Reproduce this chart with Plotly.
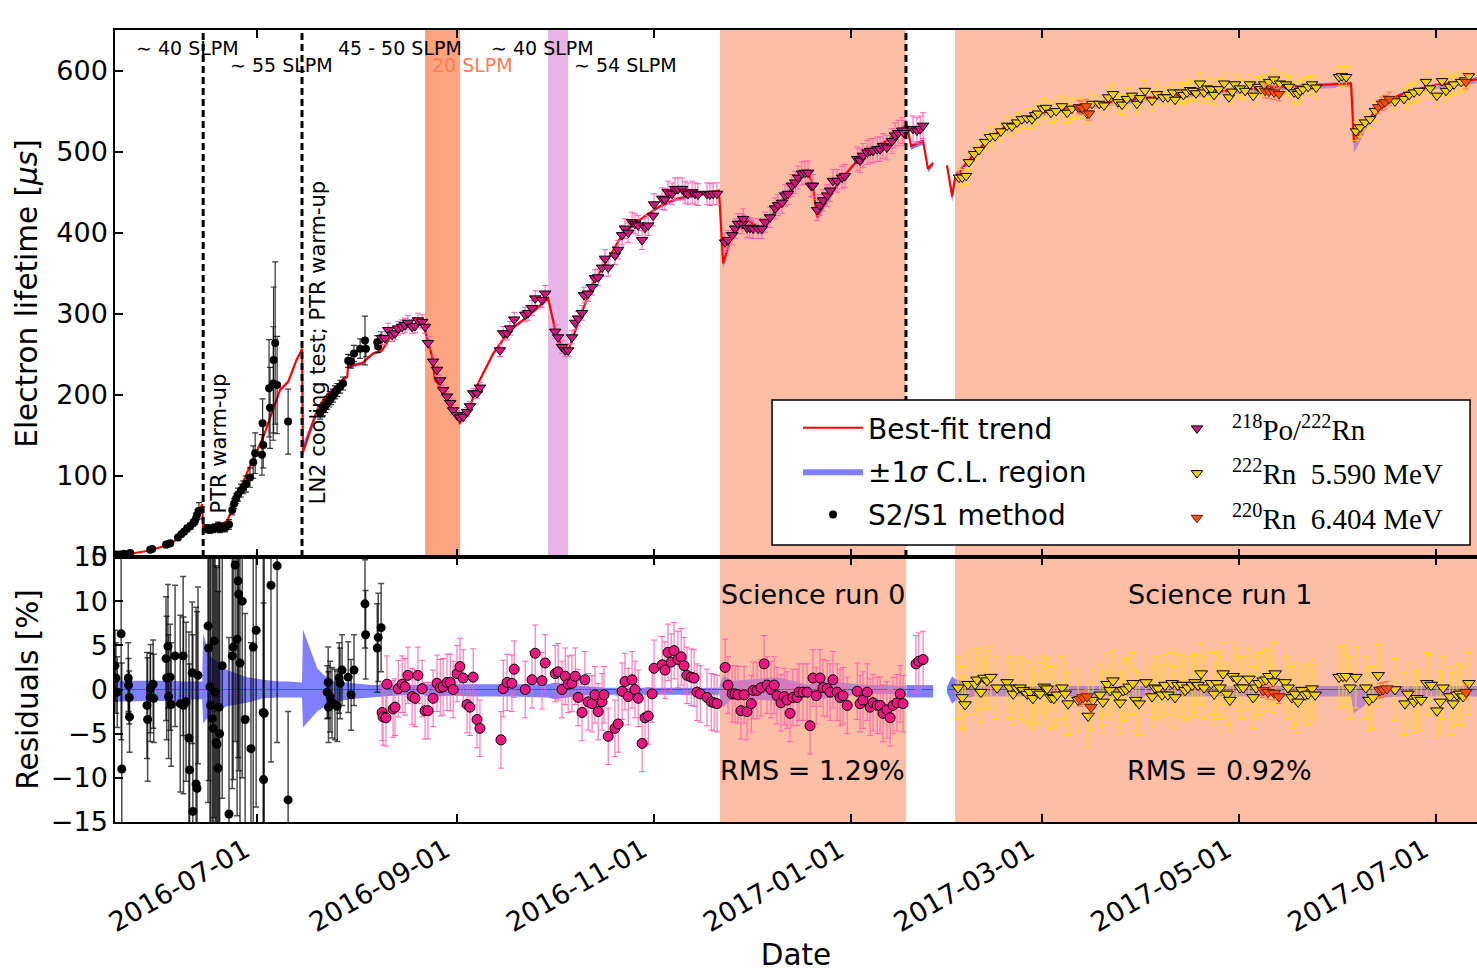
import pandas as pd
import plotly.graph_objects as go

# All dates are stored as days after this reference day.
EPOCH = pd.Timestamp("2016-07-01")
X_RANGE_DAYS = (-44.0, 377.7)

# ---------------- S2/S1 method ----------------
S2S1_DAYS = [-43.7, -42.4, -41.2, -39.3, -33.1, -32.5, -28.2, -27.6, -26.9, -24.5,
             -23.5, -22.6, -21.7, -20.7, -19.8, -19.2, -18.6, -18.0,
             -15.5, -14.6, -13.6, -13.0, -12.1, -11.5, -10.8, -9.9, -8.7, -7.7,
             -7.1, -6.5, -5.9, -5.0, -4.3, -3.4, -2.2, -1.2, -0.6,
             1.5, 1.7, 1.9, 3.7, 4.0, 5.0, 5.1, 5.6, 6.2, 9.6,
             19.5, 20.4, 21.1, 21.7, 22.3, 22.9, 23.5, 24.1, 24.8, 25.7,
             26.6, 28.2, 29.1, 30.0, 31.9, 33.4, 33.7, 37.2, 37.5, 38.4]
S2S1_TAU = [3, 3, 4, 5, 9, 10, 15, 16, 17, 24,
            28, 31, 35, 38, 42, 45, 52, 57,
            35, 34, 35, 36, 38, 35, 37, 36, 40, 58,
            66, 72, 77, 82, 86, 90, 98, 117, 128,
            126, 165, 138, 208, 184, 214, 243, 264, 212, 167,
            178, 182, 186, 190, 193, 196, 199, 203, 206, 210,
            214, 242, 241, 251, 257, 267, 257, 265, 260, 270]
S2S1_ERR = [2, 2, 2, 2, 2, 2, 3, 3, 3, 3,
            3, 3, 4, 4, 4, 5, 6, 10,
            5, 5, 5, 5, 5, 5, 5, 5, 6, 6,
            6, 6, 8, 8, 8, 10, 12, 20, 25,
            25, 30, 28, 60, 50, 70, 90, 100, 60, 40,
            8, 8, 8, 8, 8, 8, 8, 8, 8, 8,
            8, 8, 8, 10, 12, 30, 10, 8, 8, 8]

S2S1_RES_DAYS = [-44.0, -43.7, -43.3, -42.1, -41.9, -39.9, -39.8, -39.6, -39.5, -34.1,
                 -33.9, -33.1, -33.0, -32.2, -32.0, -28.2, -28.0, -27.6, -27.4, -26.9,
                 -26.6, -25.4, -23.8, -22.9, -22.8, -22.0, -21.1, -20.9, -20.1, -19.9,
                 -18.9, -18.6, -18.3, -15.2, -15.0, -14.6, -14.4, -13.9, -13.6, -13.3,
                 -13.0, -12.7, -12.4, -12.1, -11.8, -11.6, -10.8, -8.7, -7.7, -7.4,
                 -6.8, -6.2, -5.9, -5.7, -5.3, -4.6, -3.7, -1.9, -1.2, -0.3,
                 1.9, 2.0, 2.2, 4.3, 6.2, 9.6, 21.7, 22.0, 22.1, 22.6,
                 23.2, 24.1, 24.8, 25.4, 25.7, 26.3, 28.2, 29.1, 30.0, 33.4,
                 33.6, 37.2, 37.5, 38.4]
S2S1_RES = [2.7, 1.3, -0.3, 6.3, -9.0, 1.3, 0.5, -0.9, -3.1, -1.8,
            -3.4, -0.9, 0.1, 0.6, -1.0, 3.5, 1.3, 4.9, -0.8, 1.4,
            -1.7, 3.8, -1.6, 3.8, -1.8, -1.4, -5.5, -9.1, 1.9, -13.8,
            -10.7, -11.2, 1.6, 7.2, 4.7, 0.3, -1.8, -3.3, -4.4, 5.5,
            -0.3, -6.0, -6.2, -8.9, -2.0, -5.0, 2.7, -14.1, 3.8, 4.8,
            14.1, 5.7, 12.3, 10.8, 3.0, 10.0, -3.4, -6.7, 4.8, 6.7,
            -2.6, -10.2, -2.7, 11.8, 14.0, -12.5, -0.3, 0.8, -2.0, -0.8,
            -1.5, -1.7, -1.9, 1.3, 0.7, 2.2, 1.4, -0.6, 2.2, 9.7,
            6.2, 4.7, 5.9, 7.0]
S2S1_RES_ERR = [4, 4, 4, 12, 12, 4, 3, 3, 4, 6,
                7, 5, 5, 5, 5, 7, 7, 7, 7, 6,
                7, 8, 10, 9, 10, 9, 12, 12, 8, 20,
                20, 20, 10, 20, 15, 20, 20, 20, 20, 20,
                20, 20, 20, 20, 20, 20, 15, 20, 15, 15,
                20, 20, 20, 20, 20, 20, 12, 12, 20, 20,
                20, 20, 20, 20, 20, 10, 3, 4, 4, 4,
                4, 4, 4, 4, 4, 4, 4, 4, 4, 5,
                5, 5, 5, 5]

# ---------------- 218Po / 222Rn ----------------
PO_DAYS = [38.7, 39.6, 40.6, 41.8, 42.7, 43.7, 44.9, 45.8, 46.7, 48.0,
           48.9, 49.8, 51.1, 52.0, 52.9, 54.5, 55.7, 56.7, 57.6, 58.8,
           59.8, 60.7, 61.9, 62.8, 63.8, 65.0, 65.9, 66.9, 68.1, 69.0,
           75.2, 76.2, 77.4, 78.3, 79.6, 83.0, 83.9, 85.1, 86.1, 88.2,
           89.2, 92.3, 93.2, 94.4, 95.4, 96.3, 97.5, 98.5, 99.4, 100.6,
           101.2, 102.5, 103.7, 104.6, 105.6, 106.8, 107.7, 108.7, 110.8, 111.8,
           113.0, 113.9, 114.9, 116.1, 117.0, 118.0, 119.2, 120.1, 121.1, 122.6,
           122.9, 125.4, 126.3, 127.2, 128.5, 129.4, 130.3, 131.6, 132.5, 133.4,
           134.7, 135.6, 136.5, 139.3, 140.2, 141.2, 142.4, 144.9, 145.8, 147.1,
           148.0, 148.9, 150.2, 150.5, 151.7, 152.6, 153.6, 155.1, 156.3, 157.3,
           158.8, 160.4, 161.3, 162.5, 163.5, 164.4, 165.6, 166.6, 167.5, 168.7,
           169.7, 170.6, 171.5, 172.1, 173.4, 174.3, 175.2, 176.5, 177.4, 178.3,
           179.6, 181.1, 182.0, 185.8, 186.7, 187.6, 188.9, 189.8, 190.7, 192.0,
           192.9, 193.8, 195.0, 196.6, 197.5, 198.5, 199.7, 200.3,
           203.1, 204.3, 205.3, 206.2]
PO_TAU = [270, 270, 280, 274, 276, 282, 284, 286, 289, 284,
          285, 292, 290, 284, 264, 241, 231, 218, 206, 198,
          190, 181, 175, 172, 173, 179, 186, 202, 202, 209,
          255, 276, 276, 282, 293, 299, 301, 307, 319, 317,
          325, 278, 271, 259, 255, 255, 271, 289, 294, 301,
          323, 325, 333, 344, 345, 357, 368, 357, 372, 379,
          397, 405, 400, 413, 411, 409, 391, 406, 409, 421,
          435, 442, 441, 450, 448, 454, 454, 454, 450, 448,
          450, 448, 447, 448, 447, 448, 448, 388, 391, 397,
          405, 411, 411, 417, 406, 406, 405, 405, 405, 413,
          419, 430, 434, 437, 446, 448, 458, 462, 468, 473,
          474, 474, 458, 458, 428, 434, 440, 446, 452, 464,
          464, 468, 470, 491, 489, 495, 499, 501, 501, 503,
          503, 507, 505, 513, 520, 523, 526, 523,
          528, 526, 528, 532]

PO_RES_DAYS = [38.7, 39.0, 39.9, 40.2, 42.1, 42.7, 43.7, 44.9, 45.8, 46.7,
               48.0, 48.9, 49.8, 51.1, 52.0, 52.9, 54.5, 55.7, 56.7, 57.6,
               58.8, 59.8, 60.7, 61.9, 62.8, 63.8, 65.0, 65.9, 66.9, 68.1,
               69.0, 75.5, 76.2, 77.4, 78.9, 79.6, 83.0, 85.1, 86.1, 88.2,
               89.2, 92.3, 93.2, 94.4, 95.4, 96.3, 97.5, 98.5, 99.4, 100.6,
               101.5, 102.5, 103.7, 104.6, 105.6, 106.8, 107.4, 108.7, 110.8, 111.8,
               113.0, 113.9, 114.9, 116.1, 117.0, 118.0, 119.2, 120.1, 121.1, 122.3,
               122.9, 125.4, 126.3, 127.2, 128.2, 129.1, 130.3, 131.3, 132.2, 133.1,
               134.4, 135.3, 136.2, 137.2, 139.3, 140.6, 141.5, 142.4, 144.9, 145.8,
               147.1, 148.0, 148.9, 149.8, 150.8, 151.7, 153.0, 153.6, 154.8, 156.0,
               157.0, 157.9, 159.1, 160.1, 161.0, 162.2, 163.2, 164.1, 165.0, 165.9,
               167.2, 167.8, 169.0, 170.3, 171.2, 172.1, 173.1, 174.3, 175.2, 176.5,
               177.4, 178.3, 179.6, 180.5, 181.4, 182.7, 185.8, 186.7, 187.6, 188.9,
               189.8, 190.7, 192.0, 192.9, 193.8, 195.0, 196.0, 196.9, 198.1, 199.1,
               200.0, 204.0, 204.9, 206.2]
PO_RES = [-2.6, -3.1, -3.2, 0.6, -2.2, -2.0, 0.1, 0.6, 0.3, 1.6,
          -0.8, -1.0, 1.6, 0.1, -2.4, -2.4, -1.0, 0.7, 0.2, 0.3,
          0.8, 0.8, 0.0, 1.8, 2.6, 1.3, -1.7, -2.0, 1.4, -3.4,
          -4.4, -5.7, 0.1, 0.8, 0.7, 2.3, 0.0, 1.1, 4.1, 1.0,
          3.0, 1.8, 2.0, 0.0, 1.5, 0.6, 0.7, 1.5, -0.9, -2.6,
          1.1, -1.4, -1.6, -0.6, -2.5, -1.4, -0.6, -5.3, -4.4, -3.9,
          -0.2, 0.9, -0.8, 1.1, 0.0, -1.0, -6.1, -3.2, -3.0, -0.5,
          2.4, 2.8, 2.2, 4.2, 3.1, 4.4, 3.4, 3.7, 2.7, 1.6,
          1.4, 1.3, -0.3, -0.5, -0.9, -1.4, -1.5, -1.6, 2.5, 0.5,
          -0.5, -0.5, -0.6, -2.4, -0.6, -2.5, -1.6, -0.1, -0.1, 0.2,
          2.9, 0.5, 0.0, 0.5, -0.7, -1.5, -0.8, -1.2, -2.7, -0.9,
          -0.9, -0.3, -0.3, -0.3, -4.1, 1.3, -0.7, 1.3, 0.2, 0.1,
          -0.3, 1.1, -0.3, -0.9, -0.7, -1.8, -0.2, -1.6, -1.2, -0.3,
          -2.0, -1.5, -1.8, -1.8, -2.7, -2.3, -3.2, -1.8, -1.5, -0.5,
          -1.6, 2.9, 3.2, 3.4]

# ---------------- 222Rn 5.590 MeV ----------------
RN222_DAYS = [217.3, 218.3, 219.5, 220.4, 222.0, 223.5, 225.4, 226.9, 228.5, 230.3,
              232.2, 233.7, 235.3, 236.8, 238.4, 239.9, 240.9, 241.8, 243.3, 244.3,
              245.8, 247.4, 249.2, 250.8, 252.3, 254.5, 255.7, 257.0, 258.5, 260.7,
              262.2, 263.5, 265.0, 266.6, 267.8, 269.3, 270.9, 272.4, 273.4, 274.9,
              277.1, 278.6, 280.5, 282.0, 283.6, 284.2, 285.8, 286.8, 287.9, 288.9,
              289.8, 290.7, 291.9, 293.2, 294.1, 295.4, 296.3, 297.8, 299.4, 300.9,
              301.9, 302.8, 304.3, 305.9, 307.4, 308.4, 309.9, 310.8, 311.8, 313.3,
              314.9, 316.7, 318.6, 319.5, 321.1, 322.3, 322.9, 323.8, 325.4, 326.6,
              327.9, 335.0, 335.9, 337.2, 340.2, 341.5, 343.0, 344.6, 346.1, 352.3,
              355.1, 356.7, 358.2, 359.8, 361.9, 363.2, 365.3, 366.9, 368.1, 369.3,
              370.6, 372.8, 374.0, 375.2]
RN222_TAU = [468, 468, 470, 487, 497, 502, 512, 518, 519, 525,
             532, 531, 536, 540, 541, 540, 545, 547, 553, 554,
             548, 550, 556, 548, 553, 553, 552, 547, 559, 559,
             557, 567, 571, 561, 558, 565, 569, 559, 566, 575,
             563, 571, 567, 567, 573, 564, 573, 570, 573, 576,
             575, 572, 584, 573, 578, 577, 570, 577, 584, 567,
             574, 583, 578, 575, 583, 569, 580, 577, 583, 586,
             589, 584, 583, 580, 573, 571, 575, 577, 580, 583,
             579, 592, 593, 592, 525, 530, 536, 540, 550, 562,
             565, 570, 573, 575, 586, 578, 569, 587, 575, 580,
             583, 586, 588, 593]

RN222_RES_DAYS = [217.0, 218.3, 219.2, 220.1, 222.3, 222.9, 224.1, 225.1, 226.0, 227.2,
                  229.1, 232.2, 233.1, 234.1, 235.3, 236.2, 237.2, 238.4, 239.3, 240.2,
                  241.5, 242.4, 243.7, 244.6, 245.8, 246.7, 247.7, 249.2, 250.2, 251.1,
                  254.2, 257.3, 258.8, 261.0, 261.9, 263.2, 264.1, 265.0, 266.3, 267.2,
                  268.1, 269.0, 270.0, 271.2, 272.1, 273.1, 275.2, 277.1, 278.0, 279.0,
                  280.2, 281.1, 282.0, 283.3, 284.2, 285.1, 286.4, 287.3, 288.2, 289.5,
                  290.4, 291.3, 292.3, 293.2, 295.4, 296.3, 297.2, 298.1, 299.1, 300.3,
                  301.2, 302.2, 303.4, 304.3, 305.3, 307.1, 308.4, 309.3, 310.2, 311.5,
                  312.4, 313.3, 314.6, 315.2, 318.3, 319.2, 320.4, 321.4, 322.3, 323.5,
                  324.5, 325.4, 326.6, 327.6, 335.0, 336.2, 337.2, 338.4, 340.2, 343.3,
                  344.3, 345.5, 347.1, 352.3, 355.4, 356.3, 358.2, 359.1, 360.4, 362.2,
                  363.5, 365.3, 366.3, 367.2, 369.3, 370.3, 371.5, 372.4, 373.4, 375.2]
RN222_RES = [0.2, -0.9, -1.7, 0.6, 0.6, 1.1, -0.3, 1.3, 1.0, 1.4,
             0.2, 0.8, 0.2, -0.5, 0.1, 0.2, -0.1, -0.5, -0.3, -1.0,
             -0.3, -0.5, 0.3, 0.1, -0.9, -1.0, -0.6, 0.2, -0.5, -1.6,
             -1.2, -3.0, -1.2, -0.6, -1.4, 0.6, -0.1, 1.0, -0.6, -1.5,
             -0.1, 0.0, 0.3, 0.7, -1.2, -1.6, 0.8, -0.8, 0.2, 0.1,
             -0.6, 0.5, -0.6, 0.7, -0.9, 0.5, 0.5, -0.1, 0.2, 0.5,
             0.8, 0.5, 1.8, 0.2, 0.7, -0.5, 0.7, 0.2, 1.8, -0.5,
             -1.2, 1.5, 1.2, 0.2, 0.2, 1.2, -0.9, 0.2, 0.7, 1.0,
             1.1, 1.5, 0.9, 1.8, 0.8, 0.2, -0.9, -0.5, -1.4, -0.1,
             -0.6, -0.5, 0.1, -0.6, 1.4, 1.5, 1.5, 0.2, 1.4, 0.2,
             -1.2, -0.9, 1.6, 0.0, -1.6, -0.5, -1.4, -1.0, -1.2, 0.7,
             0.5, -2.4, -1.4, 0.2, -0.8, -1.6, -0.6, -0.5, -0.8, 0.7]

# ---------------- 220Rn 6.404 MeV ----------------
RN220_DAYS = [254.5, 255.4, 256.7, 257.6, 312.1, 313.3, 314.9, 316.4, 347.1, 348.3, 349.2, 350.5, 374.3]
RN220_TAU = [555, 554, 556, 547, 575, 574, 573, 571, 555, 559, 561, 565, 586]
RN220_RES_DAYS = [254.8, 255.7, 257.0, 258.2, 311.5, 313.0, 314.9, 316.4, 347.7, 348.6, 349.8, 374.3]
RN220_RES = [-1.1, -0.9, -0.8, -2.0, -0.1, -0.3, -0.4, -0.8, -0.1, 0.0, 0.1, -0.3]

# ---------------- best-fit trend and its +-1 sigma band (in %) ----------------
FIT_A_DAYS = [-44.0, -39.3, -33.1, -26.9, -22.3, -19.2, -17.6, -17.0, -16.7, -14.6,
              -9.3, -3.1, 1.9, 7.1, 9.6, 12.4, 13.3, 13.9, 14.2, 18.6,
              21.1, 23.5, 27.2, 27.9, 28.2, 29.4, 31.9, 32.5, 35.9, 38.7,
              42.1, 47.4, 51.4, 52.6, 54.2, 55.1, 56.0, 59.1, 62.8, 65.9,
              68.4, 73.1, 78.3, 83.6, 90.1, 92.3, 94.4, 96.0, 100.0, 104.0,
              108.4, 113.3, 119.5, 124.8, 130.0, 135.0, 143.0, 144.3, 147.4, 150.5,
              153.6, 156.3, 161.0, 165.9, 170.6, 172.1, 173.4, 176.5, 180.5, 185.8,
              190.7, 196.0, 200.0, 201.2, 202.5, 206.2, 207.7, 209.3]
FIT_A_TAU = [2, 4, 8, 16, 30, 45, 60, 65, 34, 34,
             44, 104, 148, 206, 216, 245, 251, 257, 130, 181,
             197, 206, 221, 222, 237, 236, 239, 239, 251, 255,
             277, 286, 288, 271, 247, 218, 214, 190, 165, 185,
             214, 251, 280, 296, 319, 280, 258, 251, 296, 338,
             366, 399, 419, 433, 442, 446, 452, 362, 403, 419,
             411, 401, 430, 456, 477, 456, 419, 440, 464, 489,
             503, 516, 530, 532, 507, 513, 479, 486]
FIT_A_UP = [1.0, 1.0, 1.0, 1.0, 0.9, 0.9, 0.9, 0.9, 6.3, 3.8,
            2.2, 1.4, 1.1, 0.9, 0.9, 0.8, 0.8, 0.8, 6.8, 2.4,
            1.5, 1.0, 0.8, 0.8, 0.8, 0.7, 0.6, 0.6, 0.5, 0.5,
            0.5, 0.5, 0.5, 0.6, 0.6, 0.7, 0.6, 0.6, 0.6, 0.6,
            0.6, 0.6, 0.6, 0.6, 0.6, 0.8, 0.7, 0.6, 0.4, 0.3,
            0.2, 0.2, 0.2, 0.2, 0.2, 0.2, 0.2, 1.6, 1.0, 1.1,
            1.2, 1.3, 1.4, 1.0, 0.5, 0.7, 1.2, 1.0, 0.8, 0.6,
            0.5, 0.5, 0.4, 0.5, 0.5, 0.5, 0.5, 0.5]
FIT_A_LO = [1.4, 1.4, 1.3, 1.3, 1.2, 1.1, 1.1, 1.1, 3.9, 2.8,
            1.9, 1.5, 1.0, 0.9, 0.9, 0.9, 0.9, 0.9, 4.3, 2.5,
            1.9, 1.5, 1.2, 1.2, 1.1, 1.1, 1.0, 1.0, 0.9, 0.8,
            0.7, 0.6, 0.6, 0.8, 0.8, 0.9, 0.8, 0.7, 0.7, 0.8,
            0.8, 0.8, 0.8, 0.8, 0.9, 1.1, 1.0, 0.9, 0.7, 0.6,
            0.6, 0.6, 0.6, 0.6, 0.6, 0.6, 0.6, 2.0, 1.0, 1.1,
            1.1, 1.2, 1.3, 0.9, 0.5, 0.7, 1.2, 1.0, 0.8, 0.6,
            0.5, 0.5, 0.5, 0.9, 0.9, 0.9, 0.9, 0.9]

FIT_B_DAYS = [213.6, 215.2, 216.1, 222.0, 227.2, 232.5, 243.3, 253.9, 264.4, 274.9,
              285.8, 296.3, 306.8, 317.3, 328.2, 338.7, 339.6, 344.0, 349.2, 354.5,
              359.8, 365.3, 375.9, 378.6]
FIT_B_TAU = [483, 445, 468, 497, 518, 533, 548, 556, 561, 566,
             570, 574, 577, 580, 582, 584, 512, 540, 561, 571,
             577, 582, 588, 590]
FIT_B_UP = [0.3, 1.5, 1.2, 0.5, 0.4, 0.4, 0.4, 0.4, 0.4, 0.4,
            0.4, 0.4, 0.4, 0.4, 0.4, 0.4, 0.4, 0.4, 0.4, 0.4,
            0.4, 0.4, 0.4, 0.4]
FIT_B_LO = [0.4, 1.6, 1.3, 0.8, 0.8, 0.8, 0.8, 0.8, 0.8, 0.8,
            0.8, 0.8, 0.8, 0.8, 0.8, 0.8, 2.7, 1.5, 0.9, 0.8,
            0.8, 0.8, 0.8, 0.8]

# ---------------- periods and events ----------------
SR0_DAYS = (143.3, 200.9)
SR1_DAYS = (216.1, X_RANGE_DAYS[1])
FLOW20_DAYS = (52.0, 62.8)
PUR_DAYS = (90.1, 96.3)
EVENT_LINES = [-16.7, 13.9, 200.9]

# ---------------- styling ----------------
FONT = "DejaVu Sans"
SALMON = "rgb(254,190,166)"
BAND_COLOR = "rgba(0,0,255,0.5)"
BAND_IN_RUN = "rgba(110,70,230,0.45)"
FIT_RED = "rgb(255,0,0)"
PO_FILL, PO_ERR, PO_RES_FILL = "rgb(205,25,125)", "rgb(255,95,175)", "rgb(232,24,128)"
RN222_FILL, RN222_ERR = "rgb(245,208,0)", "rgb(255,218,20)"
RN220_FILL, RN220_ERR = "rgb(255,80,10)", "rgb(255,115,70)"
TITLE_FONT = dict(size=29.5, family=FONT, color="black")


def to_dates(days):
    return [(EPOCH + pd.Timedelta(days=d)).strftime("%Y-%m-%d %H:%M:%S") for d in days]


def to_date(d):
    return to_dates([d])[0]


def band_runs(days):
    """Split a fit segment into runs inside / outside the science-run windows."""
    def inside(d):
        return any(a <= d <= b for a, b in (SR0_DAYS, SR1_DAYS))
    flags = [inside(0.5 * (days[i] + days[i + 1])) for i in range(len(days) - 1)]
    runs, start = [], 0
    for i in range(1, len(flags)):
        if flags[i] != flags[i - 1]:
            runs.append((start, i, flags[i - 1]))
            start = i
    runs.append((start, len(days) - 1, flags[-1]))
    return runs


fig = go.Figure()
FIT_SEGMENTS = [(FIT_A_DAYS, FIT_A_TAU, FIT_A_UP, FIT_A_LO),
                (FIT_B_DAYS, FIT_B_TAU, FIT_B_UP, FIT_B_LO)]

# +-1 sigma band, in both panels
first_band = True
for days, tau, up, lo in FIT_SEGMENTS:
    dates = to_dates(days)
    for s, e, in_run in band_runs(days):
        xs = dates[s:e + 1]
        color = BAND_IN_RUN if in_run else BAND_COLOR
        hi = [t * (1 + u / 100) for t, u in zip(tau[s:e + 1], up[s:e + 1])]
        lw = [t * (1 - l / 100) for t, l in zip(tau[s:e + 1], lo[s:e + 1])]
        fig.add_trace(go.Scatter(
            x=xs + xs[::-1], y=hi + lw[::-1], mode="lines", fill="toself",
            fillcolor=color, line=dict(width=0), xaxis="x", yaxis="y",
            name="±1<i>σ</i> C.L. region", showlegend=first_band,
            legend="legend", legendgroup="band", legendrank=2, hoverinfo="skip"))
        first_band = False
        rhi = list(up[s:e + 1])
        rlo = [-l for l in lo[s:e + 1]]
        fig.add_trace(go.Scatter(
            x=xs + xs[::-1], y=rhi + rlo[::-1], mode="lines", fill="toself",
            fillcolor=color, line=dict(width=0), xaxis="x2", yaxis="y2",
            showlegend=False, hoverinfo="skip"))

# best-fit trend (top) and its zero line in the residual panel
fit_x = to_dates(FIT_A_DAYS) + [None] + to_dates(FIT_B_DAYS)
fit_y = FIT_A_TAU + [None] + FIT_B_TAU
fig.add_trace(go.Scatter(x=fit_x, y=fit_y, mode="lines", line=dict(color=FIT_RED, width=2.2),
                         xaxis="x", yaxis="y", name="Best-fit trend", legend="legend",
                         legendgroup="fit", legendrank=1))
fig.add_trace(go.Scatter(x=fit_x, y=[None if v is None else 0 for v in fit_y], mode="lines",
                         line=dict(color="rgb(225,20,90)", width=1.2),
                         xaxis="x2", yaxis="y2", showlegend=False))

# S2/S1 method
fig.add_trace(go.Scatter(
    x=to_dates(S2S1_DAYS), y=S2S1_TAU, mode="markers",
    marker=dict(symbol="circle", size=8, color="black"),
    error_y=dict(type="data", array=S2S1_ERR, color="rgba(0,0,0,0.8)", thickness=1.2, width=3),
    xaxis="x", yaxis="y", name="S2/S1 method", legend="legend", legendgroup="s2s1", legendrank=3))
fig.add_trace(go.Scatter(
    x=to_dates(S2S1_RES_DAYS), y=S2S1_RES, mode="markers",
    marker=dict(symbol="circle", size=9, color="black"),
    error_y=dict(type="data", array=S2S1_RES_ERR, color="rgba(0,0,0,0.7)", thickness=1.5, width=3),
    xaxis="x2", yaxis="y2", showlegend=False))

# 218Po / 222Rn
fig.add_trace(go.Scatter(
    x=to_dates(PO_DAYS), y=PO_TAU, mode="markers",
    marker=dict(symbol="triangle-down", size=10, color=PO_FILL, line=dict(color="black", width=1)),
    error_y=dict(type="percent", value=3.0, color=PO_ERR, thickness=1, width=3),
    xaxis="x", yaxis="y", name="<sup>218</sup>Po/<sup>222</sup>Rn", legend="legend2",
    legendgroup="po", legendrank=1))
fig.add_trace(go.Scatter(
    x=to_dates(PO_RES_DAYS), y=PO_RES, mode="markers",
    marker=dict(symbol="circle", size=10, color=PO_RES_FILL, line=dict(color="black", width=1)),
    error_y=dict(type="constant", value=3.2, color=PO_ERR, thickness=1, width=3),
    xaxis="x2", yaxis="y2", showlegend=False))

# 222Rn 5.590 MeV
fig.add_trace(go.Scatter(
    x=to_dates(RN222_DAYS), y=RN222_TAU, mode="markers",
    marker=dict(symbol="triangle-down", size=10, color=RN222_FILL, line=dict(color="black", width=1)),
    error_y=dict(type="percent", value=2.2, color=RN222_ERR, thickness=1, width=3),
    xaxis="x", yaxis="y", name="<sup>222</sup>Rn  5.590 MeV", legend="legend2",
    legendgroup="rn222", legendrank=2))
fig.add_trace(go.Scatter(
    x=to_dates(RN222_RES_DAYS), y=RN222_RES, mode="markers",
    marker=dict(symbol="triangle-down", size=11, color=RN222_FILL, line=dict(color="black", width=1)),
    error_y=dict(type="constant", value=3.5, color=RN222_ERR, thickness=1, width=3),
    xaxis="x2", yaxis="y2", showlegend=False))

# 220Rn 6.404 MeV
fig.add_trace(go.Scatter(
    x=to_dates(RN220_DAYS), y=RN220_TAU, mode="markers",
    marker=dict(symbol="triangle-down", size=10, color=RN220_FILL, line=dict(color="rgb(90,30,0)", width=1)),
    error_y=dict(type="percent", value=1.5, color=RN220_ERR, thickness=1, width=3),
    xaxis="x", yaxis="y", name="<sup>220</sup>Rn  6.404 MeV", legend="legend2",
    legendgroup="rn220", legendrank=3))
fig.add_trace(go.Scatter(
    x=to_dates(RN220_RES_DAYS), y=RN220_RES, mode="markers",
    marker=dict(symbol="triangle-down", size=11, color=RN220_FILL, line=dict(color="rgb(90,30,0)", width=1)),
    error_y=dict(type="constant", value=0.8, color=RN220_ERR, thickness=1, width=3),
    xaxis="x2", yaxis="y2", showlegend=False))

# shaded periods, event lines and the legend frame
shapes = [
    dict(type="rect", xref="x", yref="paper", x0=to_date(SR0_DAYS[0]), x1=to_date(SR0_DAYS[1]),
         y0=0, y1=1, fillcolor=SALMON, line=dict(width=0), layer="below"),
    dict(type="rect", xref="x", yref="paper", x0=to_date(SR1_DAYS[0]), x1=to_date(SR1_DAYS[1]),
         y0=0, y1=1, fillcolor=SALMON, line=dict(width=0), layer="below"),
    dict(type="rect", xref="x", yref="y domain", x0=to_date(FLOW20_DAYS[0]), x1=to_date(FLOW20_DAYS[1]),
         y0=0, y1=1, fillcolor="rgb(252,164,128)", line=dict(width=0), layer="below"),
    dict(type="rect", xref="x", yref="y domain", x0=to_date(PUR_DAYS[0]), x1=to_date(PUR_DAYS[1]),
         y0=0, y1=1, fillcolor="rgb(232,180,232)", line=dict(width=0), layer="below"),
]
for d in EVENT_LINES:
    shapes.append(dict(type="line", xref="x", yref="y domain", x0=to_date(d), x1=to_date(d), y0=0, y1=1,
                       line=dict(color="black", width=3, dash="7px,4px"), layer="above"))
shapes.append(dict(type="rect", xref="paper", yref="paper", x0=0.4824, x1=0.9949, y0=0.3497, y1=0.5328,
                   fillcolor="white", line=dict(color="black", width=1.5), layer="above"))

annotations = []
for text, d, y, color in [("∼ 40 SLPM", -21.4, 628, "black"), ("∼ 55 SLPM", 7.4, 607, "black"),
                          ("45 - 50 SLPM", 44.3, 628, "black"), ("20 SLPM", 66.6, 607, "rgb(255,125,80)"),
                          ("∼ 40 SLPM", 88.5, 628, "black"), ("∼ 54 SLPM", 114.0, 607, "black"),
                          ("PUR upgrade", 107.0, 659, "rgb(222,128,222)")]:
    annotations.append(dict(text=text, x=to_date(d), y=y, xref="x", yref="y", showarrow=False,
                            font=dict(size=19, color=color, family=FONT)))
for text, d, y in [("PTR warm-up", -11.8, 140), ("LN2 cooling test; PTR warm-up", 18.9, 265)]:
    annotations.append(dict(text=text, x=to_date(d), y=y, xref="x", yref="y", showarrow=False,
                            textangle=-90, font=dict(size=21, family=FONT)))
for text, d, y in [("Science run 0", 172.1, 10.8), ("RMS = 1.29%", 172.1, -9.2),
                   ("Science run 1", 298.1, 10.8), ("RMS = 0.92%", 298.1, -9.2)]:
    annotations.append(dict(text=text, x=to_date(d), y=y, xref="x2", yref="y2", showarrow=False,
                            font=dict(size=27, family=FONT)))

axis_common = dict(showline=True, linecolor="black", linewidth=1.5, ticks="inside", ticklen=8,
                   tickwidth=1.5, tickcolor="black", showgrid=False, zeroline=False,
                   tickfont=dict(size=27, family=FONT, color="black"))
x_range = [to_date(X_RANGE_DAYS[0]), to_date(X_RANGE_DAYS[1])]
split = 265 / 792

fig.update_layout(
    width=1477, height=972,
    margin=dict(l=115, r=0, t=30, b=150),
    paper_bgcolor="white", plot_bgcolor="white",
    font=dict(family=FONT, size=27, color="black"),
    xaxis=dict(domain=[0, 1], anchor="y", type="date", range=x_range, showticklabels=False,
               dtick="M2", tick0="2016-07-01", mirror="ticks", **axis_common),
    yaxis=dict(domain=[split, 1], anchor="x", range=[0, 650], tickvals=[0, 100, 200, 300, 400, 500, 600],
               mirror=False, title=dict(text="Electron lifetime [<i>μs</i>]", standoff=10, font=TITLE_FONT),
               **axis_common),
    xaxis2=dict(domain=[0, 1], anchor="y2", type="date", range=x_range, matches="x",
                dtick="M2", tick0="2016-07-01", tickformat="%Y-%m-%d", tickangle=-30, mirror="ticks",
                ticklabelshift=-12,
                title=dict(text="Date", standoff=4, font=TITLE_FONT), **axis_common),
    yaxis2=dict(domain=[0, split], anchor="x2", range=[-15, 15], tickvals=[-15, -10, -5, 0, 5, 10, 15],
                mirror=False, title=dict(text="Residuals [%]", standoff=4, font=TITLE_FONT),
                **axis_common),
    shapes=shapes,
    annotations=annotations,
    showlegend=True,
    legend=dict(x=0.5015, y=0.529, xanchor="left", yanchor="top", bgcolor="rgba(0,0,0,0)",
                borderwidth=0, font=dict(size=28, family=FONT), tracegroupgap=4, itemwidth=60,
                traceorder="grouped"),
    legend2=dict(x=0.7687, y=0.529, xanchor="left", yanchor="top", bgcolor="rgba(0,0,0,0)",
                 borderwidth=0, font=dict(size=29, family="Liberation Serif"), tracegroupgap=4,
                 itemwidth=60, traceorder="grouped"),
)

fig.write_html("out.html")
